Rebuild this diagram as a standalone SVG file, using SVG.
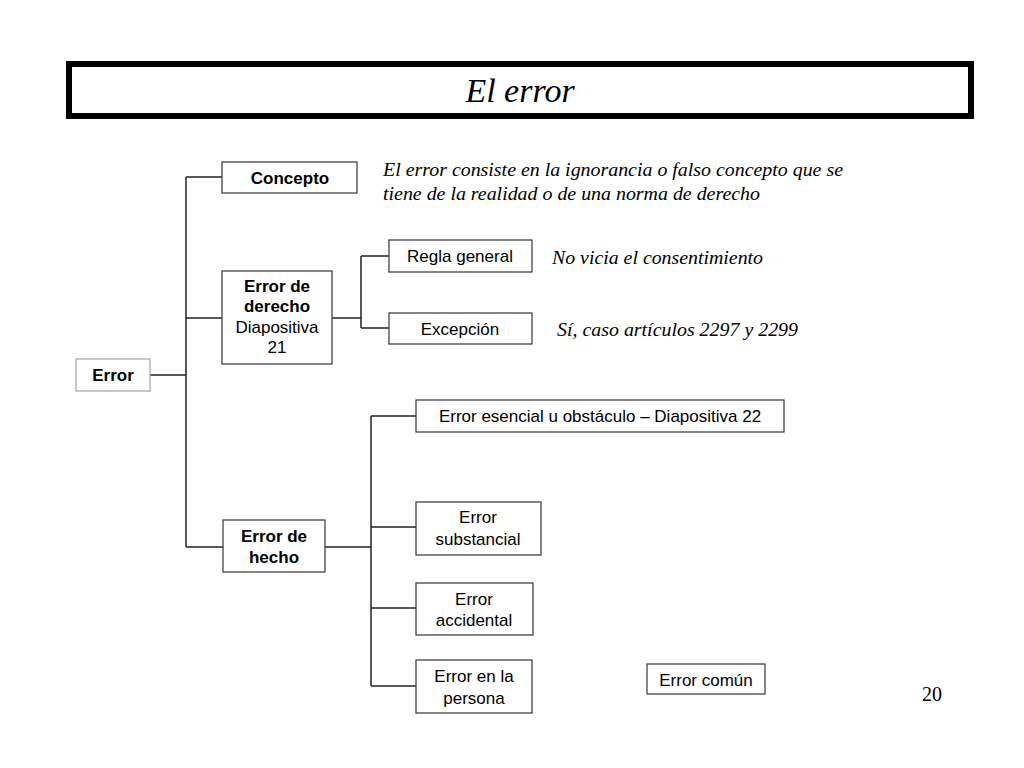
<svg xmlns="http://www.w3.org/2000/svg" width="1024" height="768" viewBox="0 0 1024 768">
<style>
.box{fill:#fff;stroke:#444;stroke-width:1.3}
.lbox{fill:#fff;stroke:#aaa;stroke-width:1.3}
.t{font-family:"Liberation Sans",Arial,sans-serif;font-size:17px;fill:#000;text-anchor:middle}
.b{font-weight:bold}
.it{font-family:"Liberation Serif","Times New Roman",serif;font-style:italic;font-size:18px;fill:#000}
.c{fill:none;stroke:#222;stroke-width:1.5}
</style>
<rect width="1024" height="768" fill="#fff"/>
<g id="title">
<rect x="69" y="64" width="902" height="52" fill="#fff" stroke="#000" stroke-width="6"/>
<text x="520" y="102" font-family="'Liberation Serif','Times New Roman',serif" font-style="italic" font-size="34" text-anchor="middle">El error</text>
</g>
<g id="connectors">
<path class="c" d="M149 375H186M186 177V547M186 177H222M186 318H222M186 547H223"/>
<path class="c" d="M332 318H361M361 256V328M361 256H389M361 328H389"/>
<path class="c" d="M325 547H371M371 416V686M371 416H416M371 527H416M371 608H416M371 686H416"/>
</g>
<g id="error"><rect class="lbox" x="76" y="359" width="74" height="32"/><text class="t b" x="113" y="381">Error</text></g>
<g id="concepto"><rect class="box" x="222" y="162" width="135" height="31"/><text class="t b" x="290" y="184">Concepto</text></g>
<g id="concepto-def"><text class="it" x="383" y="176" textLength="460" lengthAdjust="spacingAndGlyphs">El error consiste en la ignorancia o falso concepto que se</text><text class="it" x="383" y="200" textLength="377" lengthAdjust="spacingAndGlyphs">tiene de la realidad o de una norma de derecho</text></g>
<g id="derecho"><rect class="box" x="222" y="271" width="110" height="93"/>
<text class="t b" x="277" y="292">Error de</text><text class="t b" x="277" y="312">derecho</text><text class="t" x="277" y="333">Diapositiva</text><text class="t" x="277" y="353">21</text></g>
<g id="regla"><rect class="box" x="389" y="240" width="143" height="32"/><text class="t" x="460" y="262">Regla general</text></g>
<g id="regla-note"><text class="it" x="552" y="264" textLength="211" lengthAdjust="spacingAndGlyphs">No vicia el consentimiento</text></g>
<g id="excepcion"><rect class="box" x="389" y="313" width="143" height="31"/><text class="t" x="460" y="335">Excepción</text></g>
<g id="excepcion-note"><text class="it" x="557" y="336" textLength="241" lengthAdjust="spacingAndGlyphs">Sí, caso artículos 2297 y 2299</text></g>
<g id="hecho"><rect class="box" x="223" y="520" width="102" height="52"/><text class="t b" x="274" y="542">Error de</text><text class="t b" x="274" y="563">hecho</text></g>
<g id="esencial"><rect class="box" x="416" y="400" width="368" height="32"/><text class="t" x="600" y="422">Error esencial u obstáculo – Diapositiva 22</text></g>
<g id="substancial"><rect class="box" x="416" y="502" width="125" height="53"/><text class="t" x="478" y="523">Error</text><text class="t" x="478" y="545">substancial</text></g>
<g id="accidental"><rect class="box" x="416" y="583" width="117" height="52"/><text class="t" x="474" y="605">Error</text><text class="t" x="474" y="626">accidental</text></g>
<g id="persona"><rect class="box" x="416" y="660" width="116" height="53"/><text class="t" x="474" y="682">Error en la</text><text class="t" x="474" y="704">persona</text></g>
<g id="comun"><rect class="box" x="647" y="664" width="118" height="30"/><text class="t" x="706" y="686">Error común</text></g>
<text x="932" y="701" font-family="'Liberation Serif','Times New Roman',serif" font-size="20" text-anchor="middle">20</text>
</svg>
